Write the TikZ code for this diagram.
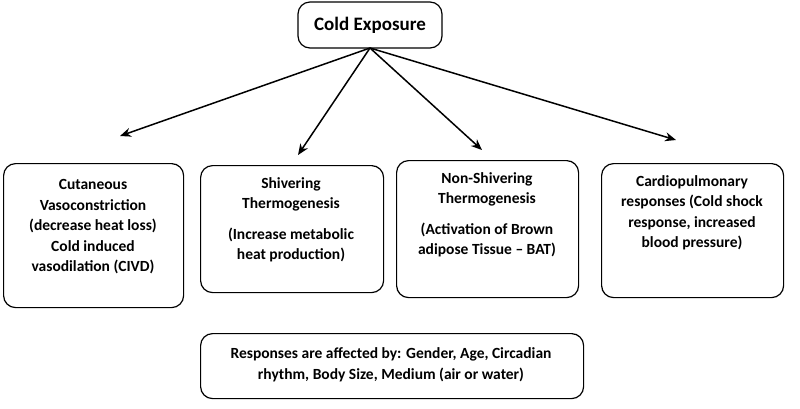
\documentclass[tikz,border=0pt]{standalone}
\usepackage{fontspec}
\setmainfont{Carlito}
\usetikzlibrary{arrows.meta}
\begin{document}
\begin{tikzpicture}[x=1pt,y=-1pt,
  box/.style={draw,line width=1.2pt,rounded corners=12pt,align=center,inner sep=0pt},
  txt/.style={align=center,font=\bfseries\fontsize{15.5}{20.5}\selectfont},
  arr/.style={-{Stealth[length=11pt,width=9pt]},line width=1.5pt}]
\useasboundingbox (0,0) rectangle (800,408);
\node[box,minimum width=144pt,minimum height=46pt,font=\bfseries\fontsize{19}{22}\selectfont] (top) at (370,25) {Cold Exposure};
\node[box,minimum width=180pt,minimum height=144pt,anchor=north west] (b1) at (3,163) {};
\node[txt,anchor=north] (t1) at (93,176) {Cutaneous\\Vasoconstriction\\(decrease heat loss)\\Cold induced\\vasodilation (CIVD)};
\node[box,minimum width=183pt,minimum height=127pt,anchor=north west] (b2) at (200,165) {};
\node[txt,anchor=north] (t2) at (291,174) {Shivering\\Thermogenesis\\[10pt](Increase metabolic\\heat production)};
\node[box,minimum width=182pt,minimum height=137pt,anchor=north west] (b3) at (396,160) {};
\node[txt,anchor=north] (t3) at (487,169) {Non-Shivering\\Thermogenesis\\[10pt](Activation of Brown\\adipose Tissue -- BAT)};
\node[box,minimum width=182pt,minimum height=134pt,anchor=north west] (b4) at (601,163) {};
\node[txt,anchor=north] (t4) at (692,172) {Cardiopulmonary\\responses (Cold shock\\response, increased\\blood pressure)};
\node[box,minimum width=383pt,minimum height=65pt,anchor=north west] (b5) at (200,333) {};
\node[txt] (t5) at (391,365) {Responses are affected by: Gender, Age, Circadian\\rhythm, Body Size, Medium (air or water)};
\coordinate (e1) at (120,136);
\coordinate (e2) at (298,155);
\coordinate (e3) at (482,150);
\coordinate (e4) at (676,140);
\coordinate (s) at (370,48);
\draw[arr] (s) -- (e1);
\draw[arr] (s) -- (e2);
\draw[arr] (s) -- (e3);
\draw[arr] (s) -- (e4);
\end{tikzpicture}
\end{document}
